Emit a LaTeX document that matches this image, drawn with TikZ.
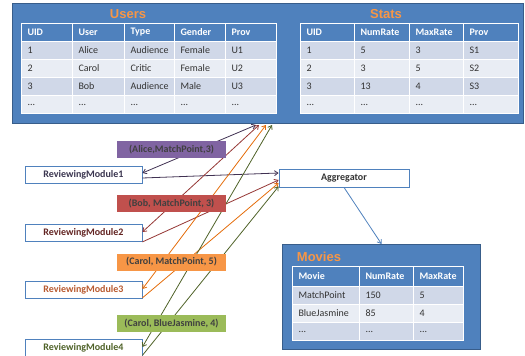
\documentclass[tikz,border=0pt]{standalone}
\usepackage{fontspec}
\setmainfont{Carlito}
\newfontfamily\titlefont{Liberation Sans}
\usetikzlibrary{arrows.meta,calc}
\definecolor{pblue}{HTML}{4F81BD}
\definecolor{pborder}{HTML}{385D8A}
\definecolor{rowA}{HTML}{D0D8E8}
\definecolor{rowB}{HTML}{E9EDF4}
\definecolor{ttl}{HTML}{F79646}
\definecolor{cpurple}{HTML}{8064A2}
\definecolor{cred}{HTML}{C0504D}
\definecolor{corange}{HTML}{F79646}
\definecolor{cgreen}{HTML}{9BBB59}
\definecolor{lpurple}{HTML}{403152}
\definecolor{lred}{HTML}{953735}
\definecolor{lorange}{HTML}{E46C0A}
\definecolor{lgreen}{HTML}{4F6228}
\definecolor{trmA}{HTML}{3B3650}
\definecolor{trmB}{HTML}{632523}
\definecolor{trmC}{HTML}{B85A30}
\definecolor{trmD}{HTML}{4F6228}
\newcommand\mydots{...}
\newcommand\mkrow[5]{%
  \foreach \x/\w/\txt [count=\i] in {#5}{%
    \pgfmathsetmacro\tw{\w-12}%
    \node[#1, minimum width=\w pt, text width=\tw pt, minimum height=#4pt, anchor=north west] (#2-\i) at (\x,#3) {\txt};
  }}
\tikzset{
  cellbase/.style={draw=white, line width=1pt, inner xsep=6pt, inner ysep=0pt, align=left, font=\fontsize{10}{12}\selectfont},
  hdr/.style={cellbase, fill=pblue, text=white, font=\bfseries\fontsize{10}{12}\selectfont},
  rowa/.style={cellbase, fill=rowA, text=black!80},
  rowb/.style={cellbase, fill=rowB, text=black!80},
  panel/.style={draw=pborder, fill=pblue, line width=1pt, anchor=north west, inner sep=0pt},
  ttlstyle/.style={text=ttl, font=\titlefont\bfseries\fontsize{13}{15}\selectfont, inner sep=0pt},
  rmbox/.style={draw=pblue, fill=white, line width=0.8pt, minimum width=117pt, minimum height=17pt, inner sep=0pt, font=\bfseries\fontsize{10}{12}\selectfont},
  msg/.style={minimum width=109pt, minimum height=17pt, inner sep=0pt, text=black!75, font=\bfseries\fontsize{10}{12}\selectfont},
  conn/.style={line width=0.8pt},
  tip/.tip={Straight Barb[length=3.5pt,width=5pt]},
}
\begin{document}
\begin{tikzpicture}[x=1pt,y=-1pt]
\useasboundingbox (0,0) rectangle (525,356);
% top panel
\node[panel, minimum width=511pt, minimum height=120pt] (top) at (12,3) {};
\node[ttlstyle] (tu) at (128,14) {Users};
\node[ttlstyle] (ts) at (386,14) {Stats};
% Users table
\mkrow{hdr}{uh}{23}{18}{21/51/UID,72/52/User,124/50/Type,174/51/Gender,225/51/Prov}
\mkrow{rowa}{ua}{41}{18}{21/51/1,72/52/Alice,124/50/Audience,174/51/Female,225/51/U1}
\mkrow{rowb}{ub}{59}{18}{21/51/2,72/52/Carol,124/50/Critic,174/51/Female,225/51/U2}
\mkrow{rowa}{uc}{77}{18}{21/51/3,72/52/Bob,124/50/Audience,174/51/Male,225/51/U3}
\mkrow{rowb}{ud}{95}{18}{21/51/\mydots,72/52/\mydots,124/50/\mydots,174/51/\mydots,225/51/\mydots}
% Stats table
\mkrow{hdr}{sh}{23}{18}{300/54/UID,354/55/NumRate,409/54/MaxRate,463/55/Prov}
\mkrow{rowa}{sa}{41}{18}{300/54/1,354/55/5,409/54/3,463/55/S1}
\mkrow{rowb}{sb}{59}{18}{300/54/2,354/55/3,409/54/5,463/55/S2}
\mkrow{rowa}{sc}{77}{18}{300/54/3,354/55/13,409/54/4,463/55/S3}
\mkrow{rowb}{sd}{95}{18}{300/54/\mydots,354/55/\mydots,409/54/\mydots,463/55/\mydots}
% Movies panel
\node[panel, minimum width=198pt, minimum height=105pt] (mov) at (282,244) {};
\node[ttlstyle] (tm) at (319,257) {Movies};
\mkrow{hdr}{mh}{266}{20}{292/67/Movie,359/54/NumRate,413/50/MaxRate}
\mkrow{rowa}{ma}{286}{18}{292/67/MatchPoint,359/54/150,413/50/5}
\mkrow{rowb}{mb}{304}{18}{292/67/BlueJasmine,359/54/85,413/50/4}
\mkrow{rowa}{mc}{322}{18}{292/67/\mydots,359/54/\mydots,413/50/\mydots}
% modules and aggregator
\node[rmbox, text=trmA] (rm1) at (83.5,174.5) {ReviewingModule1};
\node[rmbox, text=trmB] (rm2) at (83.5,233) {ReviewingModule2};
\node[rmbox, text=trmC] (rm3) at (83.5,290) {ReviewingModule3};
\node[rmbox, text=trmD] (rm4) at (83.5,348) {ReviewingModule4};
\node[rmbox, minimum width=130pt, minimum height=18pt, text=black!80] (agg) at (344,178) {Aggregator};
% endpoints on the top panel
\coordinate (t1) at (256,125);
\coordinate (t2) at (259,125);
\coordinate (t3) at (266,125);
\coordinate (t4) at (272,125);
% connectors
\draw[conn, lpurple, tip-tip] (t1) -- ([yshift=1.5pt]rm1.east);
\draw[conn, lpurple, -tip] ([yshift=-3.5pt]rm1.east) -- ([yshift=5pt]agg.west);
\draw[conn, lred, tip-tip] (t2) -- ([yshift=1pt]rm2.east);
\draw[conn, lred, -tip] (rm2.south east) -- ([yshift=-2pt]agg.west);
\draw[conn, lorange, tip-tip] (t3) -- ([yshift=1pt]rm3.east);
\draw[conn, lorange, -tip] ([yshift=1pt]rm3.south east) -- ([yshift=-5pt]agg.west);
\draw[conn, lgreen, tip-tip] (t4) -- ([yshift=1pt]rm4.east);
\draw[conn, lgreen, -tip] ([yshift=1.5pt]rm4.south east) -- ([yshift=1pt]agg.south west);
\draw[conn, pblue, -tip] (agg.south) -- (mov.north);
% message labels
\node[msg, fill=cpurple] (m1) at (171.5,149.5) {(Alice,MatchPoint,3)};
\node[msg, fill=cred] (m2) at (171.5,203.5) {(Bob, MatchPoint, 3)};
\node[msg, fill=corange] (m3) at (171.5,262) {(Carol, MatchPoint, 5)};
\node[msg, fill=cgreen] (m4) at (171.5,323.5) {(Carol, BlueJasmine, 4)};
\end{tikzpicture}
\end{document}
